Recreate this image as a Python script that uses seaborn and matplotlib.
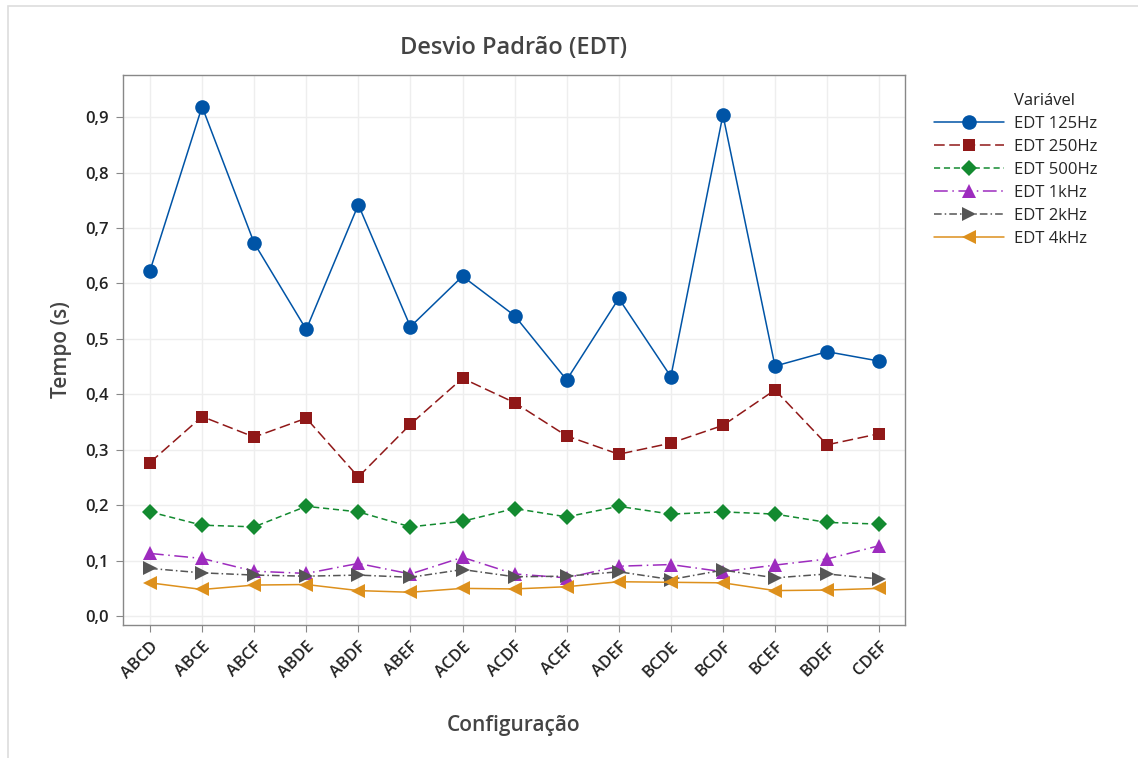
import numpy as np
import pandas as pd
import matplotlib.pyplot as plt
import seaborn as sns
from matplotlib.patches import Rectangle

configs = ["ABCD", "ABCE", "ABCF", "ABDE", "ABDF", "ABEF", "ACDE", "ACDF",
           "ACEF", "ADEF", "BCDE", "BCDF", "BCEF", "BDEF", "CDEF"]

edt_125 = [0.623, 0.919, 0.673, 0.517, 0.742, 0.522, 0.613, 0.542,
           0.426, 0.573, 0.432, 0.904, 0.451, 0.477, 0.460]
edt_250 = [0.277, 0.360, 0.323, 0.357, 0.251, 0.346, 0.429, 0.385,
           0.325, 0.292, 0.312, 0.344, 0.408, 0.309, 0.329]
edt_500 = [0.188, 0.164, 0.161, 0.198, 0.188, 0.161, 0.171, 0.194,
           0.179, 0.198, 0.184, 0.188, 0.184, 0.169, 0.166]
edt_1k = [0.113, 0.104, 0.081, 0.077, 0.095, 0.076, 0.106, 0.076,
          0.069, 0.090, 0.093, 0.080, 0.092, 0.103, 0.127]
edt_2k = [0.086, 0.078, 0.074, 0.072, 0.074, 0.070, 0.084, 0.071,
          0.072, 0.080, 0.066, 0.083, 0.069, 0.076, 0.067]
edt_4k = [0.060, 0.048, 0.056, 0.057, 0.046, 0.043, 0.050, 0.049,
          0.053, 0.062, 0.061, 0.060, 0.046, 0.047, 0.050]

series = {
    "EDT 125Hz": edt_125,
    "EDT 250Hz": edt_250,
    "EDT 500Hz": edt_500,
    "EDT 1kHz": edt_1k,
    "EDT 2kHz": edt_2k,
    "EDT 4kHz": edt_4k,
}
names = list(series)

rows = []
for name, vals in series.items():
    for c, v in zip(configs, vals):
        rows.append({"Configuração": c, "Tempo (s)": v, "Variável": name})
df = pd.DataFrame(rows)

colors = ["#0054A6", "#901818", "#138A30", "#9D2BBE", "#555555", "#DD901C"]
markers = ["o", "s", "D", "^", ">", "<"]
msizes = [10.5, 8.5, 8, 10, 10, 10]
dashes = ["", (7, 3), (4, 2.5), (9, 3, 1, 3), (5, 2, 1, 2), ""]

sns.set_style("white")
plt.rcParams["font.family"] = ["Open Sans", "DejaVu Sans"]

fig = plt.figure(figsize=(11.38, 7.58), dpi=100)
ax = fig.add_axes([0.108, 0.1755, 0.687, 0.7255])

sns.lineplot(data=df, x="Configuração", y="Tempo (s)", hue="Variável",
             style="Variável", palette=dict(zip(names, colors)),
             markers=dict(zip(names, markers)), dashes=dict(zip(names, dashes)),
             markersize=10, linewidth=1.1, markeredgewidth=0, ax=ax, sort=False)

# per-series marker sizes
for i, line in enumerate(ax.lines[:len(names)]):
    line.set_markersize(msizes[i])

ax.set_ylim(-0.016, 0.976)
ax.set_xlim(-0.52, 14.49)
ticks = np.arange(0, 1.0, 0.1)
ax.set_yticks(ticks)
ax.set_yticklabels([f"{t:.1f}".replace(".", ",") for t in ticks])
ax.grid(True, color="#EEEEEE", linewidth=1)
for s in ax.spines.values():
    s.set_color("#888888")
    s.set_linewidth(1)
ax.tick_params(axis="both", length=5, color="#888888", labelsize=12, labelcolor="#222222",
               bottom=True, left=True, pad=5)
for lab in ax.get_xticklabels() + ax.get_yticklabels():
    lab.set_fontweight("semibold")
plt.setp(ax.get_xticklabels(), rotation=45, ha="right", rotation_mode="anchor")

ax.set_title("Desvio Padrão (EDT)", fontsize=17, color="#444444", pad=15, fontweight="semibold")
ax.set_xlabel("Configuração", fontsize=15, color="#444444", fontweight="semibold", labelpad=24)
ax.set_ylabel("Tempo (s)", fontsize=15, color="#444444", fontweight="semibold", labelpad=10)

leg = ax.legend(loc="upper left", bbox_to_anchor=(1.025, 0.985), frameon=False,
                title=" ", fontsize=12, title_fontsize=12,
                handlelength=4.2, handletextpad=0.6, labelspacing=0.42, borderaxespad=0.2)
for h, ms in zip(leg.legend_handles, msizes):
    h.set_markersize(ms)
    h.set_linewidth(1.1)

# legend title aligned with the label text
fig.canvas.draw()
inv = fig.transFigure.inverted()
lab_bb = leg.get_texts()[0].get_window_extent()
title_bb = leg.get_title().get_window_extent()
x0, _ = inv.transform((lab_bb.x0, 0))
_, y0 = inv.transform((0, (title_bb.y0 + title_bb.y1) / 2))
fig.text(x0, y0, "Variável", fontsize=12, color="#222222", va="center", ha="left")

fig.patches.append(Rectangle((0.007, -0.01), 1.1, 1.002, transform=fig.transFigure,
                             fill=False, edgecolor="#DDDDDD", linewidth=1.2))

fig.savefig("out.png", dpi=100)
